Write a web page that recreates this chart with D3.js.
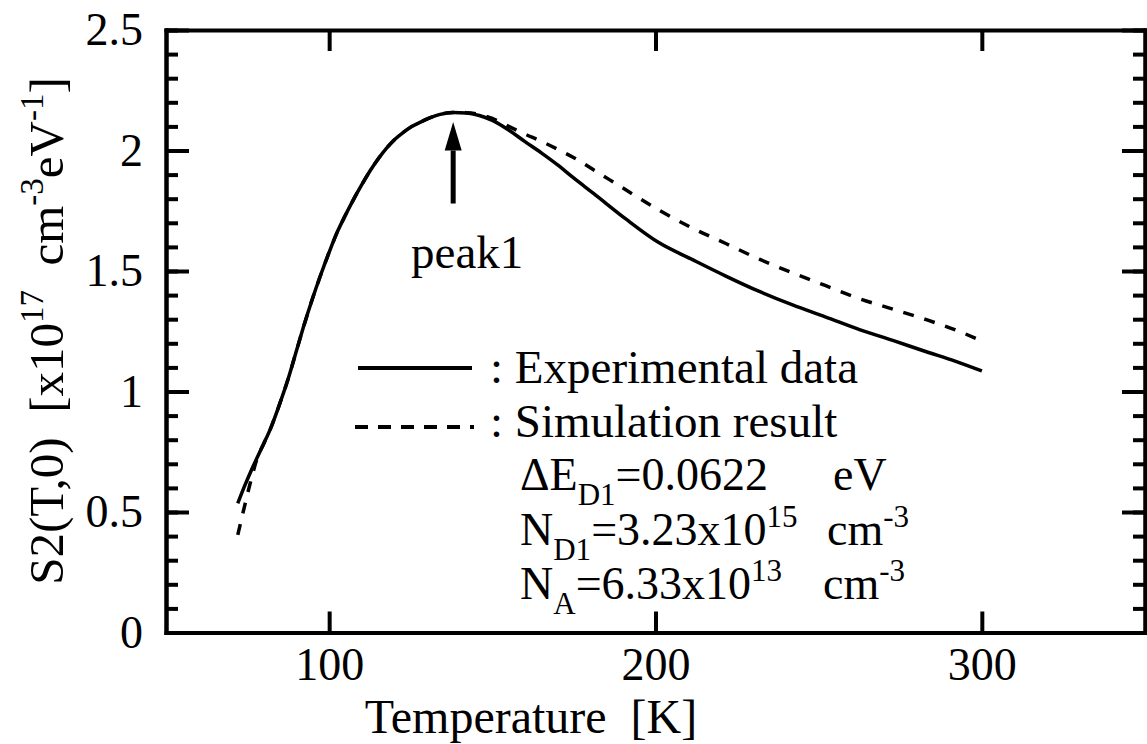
<!DOCTYPE html>
<html>
<head>
<meta charset="utf-8">
<script src="https://cdn.jsdelivr.net/npm/d3@7"></script>
<style>
  html, body { margin: 0; padding: 0; background: #fff; }
  svg { display: block; }
  svg text { fill: #000; white-space: pre; }
</style>
</head>
<body>
<svg id="chart" width="1147" height="744"></svg>
<script>
// ---- data ----
const expT = [72, 74, 76.7, 80, 82, 85, 87, 90, 92, 95, 97.2, 100, 102.3, 105, 107.4, 110, 112.5, 115, 117.6, 120, 122.7, 125, 128, 131, 134, 138, 142, 146, 150, 155, 160, 165, 170, 175, 181, 191, 201, 211.5, 221.7, 232, 242, 252, 262.5, 272.7, 283, 292, 300];
const expS = [0.536, 0.605, 0.69, 0.785, 0.845, 0.955, 1.034, 1.17, 1.262, 1.39, 1.476, 1.578, 1.656, 1.732, 1.795, 1.858, 1.915, 1.965, 2.01, 2.045, 2.075, 2.097, 2.118, 2.136, 2.150, 2.158, 2.156, 2.145, 2.125, 2.085, 2.037, 1.99, 1.94, 1.885, 1.822, 1.715, 1.618, 1.546, 1.478, 1.414, 1.359, 1.31, 1.257, 1.212, 1.165, 1.125, 1.085];

const simT = [72, 74, 76, 78, 80, 82, 85, 87, 90, 92, 95, 97.2, 100, 102.3, 105, 107.4, 110, 112.5, 115, 117.6, 120, 122.7, 125, 128, 131, 134, 138, 142, 146, 150, 155, 160, 165, 170, 175, 181, 191, 201, 211.5, 221.7, 232, 242, 252, 262.5, 272.7, 283, 292, 300];
const simS = [0.405, 0.52, 0.63, 0.725, 0.785, 0.845, 0.955, 1.034, 1.17, 1.262, 1.39, 1.476, 1.578, 1.656, 1.732, 1.795, 1.858, 1.915, 1.965, 2.01, 2.045, 2.075, 2.097, 2.118, 2.136, 2.150, 2.158, 2.157, 2.150, 2.133, 2.100, 2.068, 2.038, 2.005, 1.97, 1.92, 1.836, 1.753, 1.677, 1.613, 1.548, 1.492, 1.44, 1.385, 1.342, 1.298, 1.255, 1.21];

const xTicks = [100, 200, 300];
const xTickLabels = ["100", "200", "300"];
const yTicks = [0, 0.5, 1, 1.5, 2, 2.5];
const yTickLabels = ["0", "0.5", "1", "1.5", "2", "2.5"];
const yMinorTicks = d3.range(0, 2.51, 0.1).map(v => +v.toFixed(1));

const peakT = 138;
const peakLabel = "peak1";

// ---- layout ----
const svg = d3.select("#chart");
const FONT = "Liberation Serif, Nimbus Roman, TeX Gyre Termes, FreeSerif, Times New Roman, Times, serif";
const FS = 46, SFS = 31, TFS = 48, LFS = 47;
const x = d3.scaleLinear().domain([50, 350]).range([166, 1145]);
const y = d3.scaleLinear().domain([0, 2.5]).range([632.5, 30]);

svg.attr("font-family", FONT);

function styleAxis(g, labels) {
  g.attr("font-family", FONT);
  g.select(".domain").attr("stroke", "#000").attr("stroke-width", 4).attr("stroke-linecap", "square");
  g.selectAll(".tick line").attr("stroke", "#000").attr("stroke-width", 4);
  g.selectAll(".tick text").attr("font-size", FS).style("font-family", FONT);
  if (!labels) g.selectAll(".tick text").remove();
}

// minor y ticks (left + right)
svg.append("g").attr("transform", `translate(${x(50)},0)`)
  .call(d3.axisLeft(y).tickValues(yMinorTicks).tickSize(-12).tickSizeOuter(0).tickFormat(""))
  .call(g => styleAxis(g, false));
svg.append("g").attr("transform", `translate(${x(350)},0)`)
  .call(d3.axisRight(y).tickValues(yMinorTicks).tickSize(-12).tickSizeOuter(0).tickFormat(""))
  .call(g => styleAxis(g, false));

// major y
svg.append("g").attr("transform", `translate(${x(50)},0)`)
  .call(d3.axisLeft(y).tickValues(yTicks).tickSize(-23).tickSizeOuter(0).tickPadding(23)
    .tickFormat((d, i) => yTickLabels[i]))
  .call(g => styleAxis(g, true));
svg.append("g").attr("transform", `translate(${x(350)},0)`)
  .call(d3.axisRight(y).tickValues(yTicks).tickSize(-23).tickSizeOuter(0).tickFormat(""))
  .call(g => styleAxis(g, false));

// x axes
svg.append("g").attr("transform", `translate(0,${y(0)})`)
  .call(d3.axisBottom(x).tickValues(xTicks).tickSize(-21).tickSizeOuter(0).tickPadding(15)
    .tickFormat((d, i) => xTickLabels[i]))
  .call(g => styleAxis(g, true));
svg.append("g").attr("transform", `translate(0,${y(2.5)})`)
  .call(d3.axisTop(x).tickValues(xTicks).tickSize(-21).tickSizeOuter(0).tickFormat(""))
  .call(g => styleAxis(g, false));

// axis titles
svg.append("text").attr("x", 531).attr("y", 733).attr("text-anchor", "middle")
  .style("font-family", FONT).attr("font-size", TFS).text("Temperature  [K]");

const yl = svg.append("text").attr("transform", "translate(63,331) rotate(-90)")
  .attr("text-anchor", "middle").style("font-family", FONT).attr("font-size", 49);
yl.append("tspan").text("S2(T,0)  [x10");
yl.append("tspan").attr("font-size", 33).attr("dy", -20).text("17");
yl.append("tspan").attr("dy", 20).text("  cm");
yl.append("tspan").attr("font-size", 33).attr("dy", -20).text("-3");
yl.append("tspan").attr("dy", 20).text("eV");
yl.append("tspan").attr("font-size", 33).attr("dy", -20).text("-1");
yl.append("tspan").attr("dy", 20).text("]");

// curves
const line = d3.line().x(d => x(d[0])).y(d => y(d[1])).curve(d3.curveMonotoneX);
const simData = simT.map((t, i) => [t, simS[i]]);
const expData = expT.map((t, i) => [t, expS[i]]);

svg.append("path").datum(simData).attr("d", line)
  .attr("fill", "none").attr("stroke", "#000").attr("stroke-width", 3.5)
  .attr("stroke-dasharray", "11,11");
svg.append("path").datum(expData).attr("d", line)
  .attr("fill", "none").attr("stroke", "#000").attr("stroke-width", 3.5);

// peak arrow
const ax = x(peakT);
svg.append("line").attr("x1", ax).attr("x2", ax).attr("y1", y(1.78)).attr("y2", y(2.0))
  .attr("stroke", "#000").attr("stroke-width", 5);
svg.append("path")
  .attr("d", `M${ax},${y(2.118)} L${ax - 8.5},${y(2.0)} L${ax + 8.5},${y(2.0)} Z`)
  .attr("fill", "#000");
svg.append("text").attr("x", ax + 14).attr("y", y(1.513)).attr("text-anchor", "middle")
  .style("font-family", FONT).attr("font-size", LFS).text(peakLabel);

// legend
const lg = svg.append("g").style("font-family", FONT);
lg.append("line").attr("x1", 358).attr("x2", 472).attr("y1", 368).attr("y2", 368)
  .attr("stroke", "#000").attr("stroke-width", 4);
lg.append("text").attr("x", 490).attr("y", 383).attr("font-size", LFS).text(": Experimental data");
lg.append("line").attr("x1", 355).attr("x2", 474).attr("y1", 427).attr("y2", 427)
  .attr("stroke", "#000").attr("stroke-width", 4).attr("stroke-dasharray", "13,10");
lg.append("text").attr("x", 490).attr("y", 437).attr("font-size", LFS).text(": Simulation result");

function param(yb, main, sub, rest, sup, unitX, unit, unitSup) {
  const t = lg.append("text").attr("x", 520).attr("y", yb).attr("font-size", FS);
  t.append("tspan").text(main);
  t.append("tspan").attr("font-size", SFS).attr("dy", 15).text(sub);
  t.append("tspan").attr("dy", -15).text(rest);
  if (sup) t.append("tspan").attr("font-size", SFS).attr("dy", -18).text(sup);
  const u = lg.append("text").attr("x", unitX).attr("y", yb).attr("font-size", FS);
  u.append("tspan").text(unit);
  if (unitSup) u.append("tspan").attr("font-size", SFS).attr("dy", -18).text(unitSup);
}
param(490, "ΔE", "D1", "=0.0622", null, 833, "eV", null);
param(545, "N", "D1", "=3.23x10", "15", 827, "cm", "-3");
param(599, "N", "A", "=6.33x10", "13", 823, "cm", "-3");
</script>
</body>
</html>
